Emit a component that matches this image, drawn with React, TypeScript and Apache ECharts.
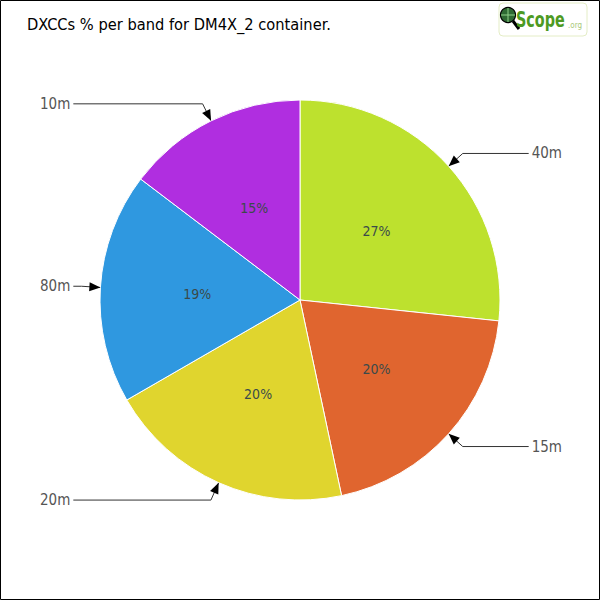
import React, { useEffect, useRef } from 'react';
import * as echarts from 'echarts';

const bands = ['40m', '15m', '20m', '80m', '10m'];
const counts = [40, 30, 30, 28, 22];
const colors = ['#BDE12E', '#E0652F', '#E0D52E', '#2F98E0', '#B02EE0'];
const titleText = 'DXCCs % per band for DM4X_2 container.';

const CX = 300;
const CY = 300;
const R = 200;
const FONT = '"DejaVu Sans Condensed", "DejaVu Sans", sans-serif';

export default function App() {
  const ref = useRef<HTMLDivElement>(null);
  useEffect(() => {
    document.body.style.margin = '0';
    const chart = echarts.init(ref.current!, null, { renderer: 'svg' });
    const total = counts.reduce((a, b) => a + b, 0);
    let cum = 0;
    const arrows = counts.map((v) => {
      const a0 = cum;
      cum += v;
      const mid = ((a0 + v / 2) / total) * 2 * Math.PI;
      const ux = Math.sin(mid);
      const uy = -Math.cos(mid);
      const tipX = CX + R * ux;
      const tipY = CY + R * uy;
      const L = 11;
      const W = 4.5;
      const bx = tipX + L * ux;
      const by = tipY + L * uy;
      const px = -uy;
      const py = ux;
      return {
        type: 'polygon',
        shape: { points: [[tipX, tipY], [bx + W * px, by + W * py], [bx - W * px, by - W * py]] },
        style: { fill: '#000' },
        z: 100,
      };
    });

    const inner = bands.map((b, i) => ({ name: b, value: counts[i], itemStyle: { color: colors[i] } }));
    const outer = bands.map((b, i) => ({
      name: b,
      value: counts[i],
      label: { edgeDistance: i < 2 ? 38 : 40 },
    }));

    chart.setOption({
      animation: false,
      title: {
        text: titleText,
        left: 22,
        top: 11,
        textStyle: { fontFamily: FONT, fontSize: 16.3, fontWeight: 'normal', color: '#000' },
      },
      series: [
        {
          type: 'pie',
          center: [CX, CY],
          radius: [0, R],
          startAngle: 90,
          clockwise: true,
          silent: true,
          data: inner,
          itemStyle: { borderColor: '#fff', borderWidth: 1 },
          label: {
            position: 'inner',
            fontFamily: FONT,
            fontSize: 14,
            color: '#3b4a4a',
            formatter: (p: any) => Math.round((p.value / total) * 100) + '%',
          },
          labelLine: { show: false },
          emphasis: { disabled: true },
        },
        {
          type: 'pie',
          center: [CX, CY],
          radius: [0, R],
          startAngle: 90,
          clockwise: true,
          silent: true,
          data: outer,
          itemStyle: { color: 'rgba(0,0,0,0)', borderWidth: 0 },
          label: {
            position: 'outside',
            alignTo: 'edge',
            edgeDistance: 40,
            distanceToLabelLine: 3,
            overflow: 'none',
            fontFamily: FONT,
            fontSize: 15,
            color: '#555',
            formatter: '{b}',
          },
          labelLine: { show: true, length: 19, length2: 1, lineStyle: { color: '#333', width: 1 } },
          emphasis: { disabled: true },
        },
      ],
      graphic: [
        {
          type: 'rect',
          shape: { x: 0.5, y: 0.5, width: 599, height: 599 },
          style: { fill: 'none', stroke: '#000', lineWidth: 1 },
          silent: true,
        },
        ...arrows,
        {
          type: 'group',
          x: 499,
          y: 3,
          children: [
            { type: 'rect', shape: { x: 0, y: 0, width: 88, height: 33, r: 4 }, style: { fill: '#fff', stroke: '#e4edc6', lineWidth: 1 } },
            { type: 'line', shape: { x1: 14, y1: 18, x2: 20, y2: 26 }, style: { stroke: '#000', lineWidth: 3 } },
            { type: 'circle', shape: { cx: 9, cy: 12, r: 7.5 }, style: { fill: '#2e6a33', stroke: '#000', lineWidth: 1.2 } },
            { type: 'line', shape: { x1: 9, y1: 5, x2: 9, y2: 19 }, style: { stroke: '#8fd08a', lineWidth: 1 } },
            { type: 'line', shape: { x1: 2, y1: 12, x2: 16, y2: 12 }, style: { stroke: '#8fd08a', lineWidth: 1 } },
            {
              type: 'text',
              x: 17,
              y: 17,
              scaleX: 0.76,
              style: {
                text: 'Scope',
                fontFamily: FONT,
                fontSize: 21,
                fontWeight: 'bold',
                fill: '#4d9a22',
                verticalAlign: 'middle',
              },
            },
            {
              type: 'text',
              x: 69,
              y: 22,
              style: { text: '.org', fontFamily: FONT, fontSize: 8, fill: '#a9c97a', verticalAlign: 'middle' },
            },
          ],
        },
      ],
    });
    return () => chart.dispose();
  }, []);
  return <div ref={ref} style={{ position: 'absolute', left: 0, top: 0, width: 600, height: 600 }} />;
}
